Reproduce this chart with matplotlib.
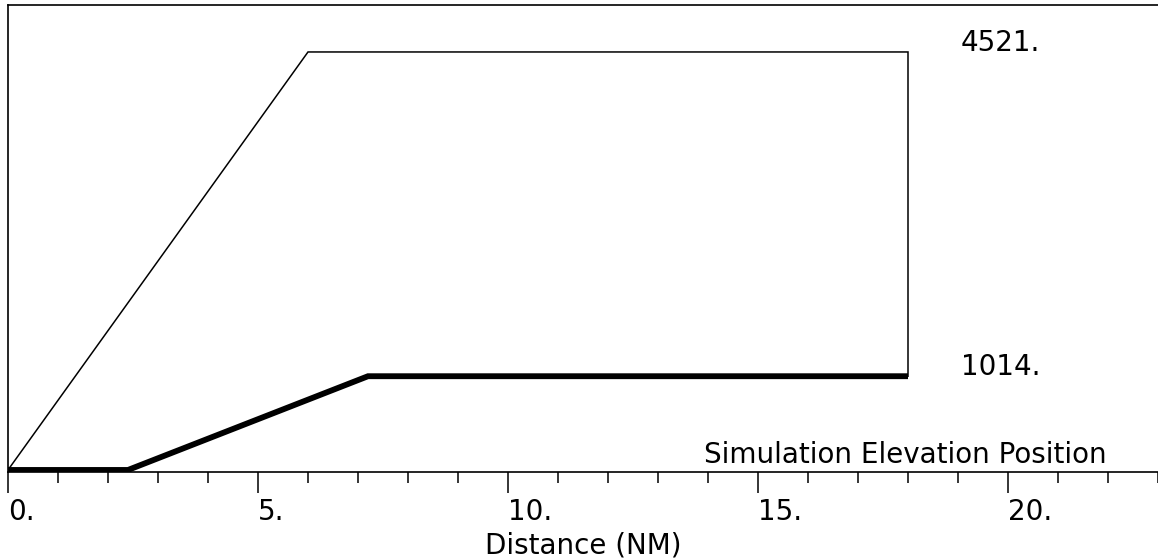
import matplotlib
matplotlib.use("Agg")
import matplotlib.pyplot as plt
from matplotlib.ticker import MultipleLocator, FixedFormatter, FixedLocator

# simulation profile (distance in NM, elevation)
sim_x = [0.0, 6.0, 18.0, 18.0]
sim_y = [0, 4521, 4521, 1014]

# position profile
pos_x = [0.0, 2.4, 7.2, 18.0]
pos_y = [0, 0, 1014, 1014]

major_ticks = [0, 5, 10, 15, 20]
major_labels = ["0.", "5.", "10.", "15.", "20."]
value_labels = [(4521, "4521."), (1014, "1014.")]

plt.rcParams['font.family'] = ['DejaVu Sans']
FS = 20

fig = plt.figure(figsize=(11.58, 5.6), dpi=100)
ax = fig.add_axes([8 / 1158, 88 / 560, 1150 / 1158, 467 / 560])

ax.plot(sim_x, sim_y, color='black', lw=1.1, solid_joinstyle='miter')
ax.plot(pos_x, pos_y, color='black', lw=4.2, solid_joinstyle='miter',
        solid_capstyle='butt')

ax.set_xlim(0, 23)
ax.set_ylim(-22, 5029)

for val, txt in value_labels:
    ax.text(19.05, val + 10, txt, fontsize=FS, va='baseline', ha='left')

ax.text(21.98, 75, "Simulation Elevation Position", fontsize=FS,
        ha='right', va='baseline')

ax.xaxis.set_major_locator(FixedLocator(major_ticks))
ax.xaxis.set_major_formatter(FixedFormatter(major_labels))
ax.xaxis.set_minor_locator(MultipleLocator(1))
ax.tick_params(axis='x', which='major', length=15, width=1.1, direction='out',
               labelsize=FS, pad=4)
ax.tick_params(axis='x', which='minor', length=8, width=1.1, direction='out')
for lab in ax.get_xticklabels():
    lab.set_horizontalalignment('left')
ax.set_yticks([])

ax.spines['bottom'].set_linewidth(1.2)
ax.spines['left'].set_linewidth(1.2)
ax.spines['top'].set_linewidth(1.2)
ax.spines['right'].set_linewidth(0.6)
ax.spines['right'].set_color('#bbbbbb')
ax.spines['right'].set_linestyle((0, (2, 4)))

ax.set_xlabel("Distance (NM)", fontsize=FS, labelpad=3.5)

fig.savefig("out.png", dpi=100)
